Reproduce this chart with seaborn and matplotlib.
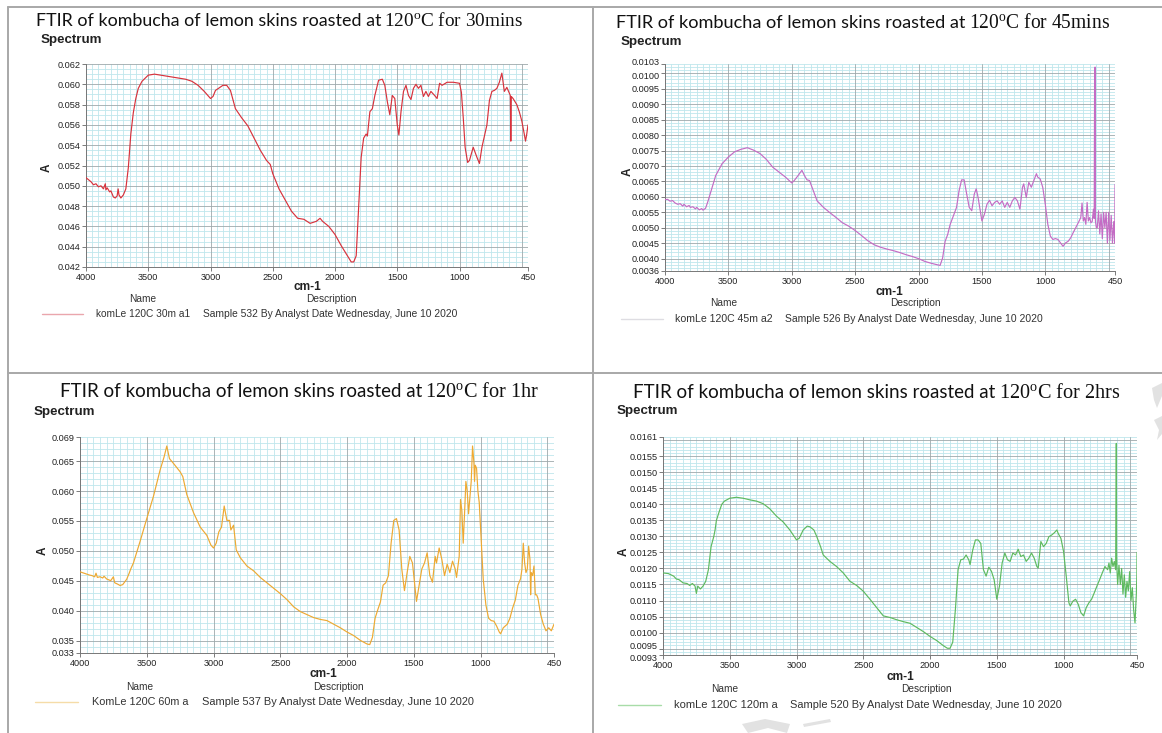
import numpy as np
import pandas as pd
import matplotlib
matplotlib.use("Agg")
import matplotlib.pyplot as plt
from matplotlib.lines import Line2D
from matplotlib.patches import Polygon
from matplotlib.transforms import ScaledTranslation
import seaborn as sns

# ---------------- data ----------------
p1_wn = [4000, 3980, 3960, 3940, 3920, 3900, 3880, 3860, 3845, 3840, 3830, 3810, 3800, 3780, 3765, 3750,
         3742, 3735, 3720, 3700, 3680, 3660, 3640, 3620, 3600, 3580, 3550, 3500, 3450, 3400, 3300, 3200,
         3150, 3100, 3050, 3000, 2980, 2960, 2900, 2870, 2840, 2800, 2750, 2700, 2650, 2600, 2550, 2520,
         2500, 2450, 2400, 2350, 2300, 2250, 2200, 2150, 2120, 2100, 2050, 2000, 1950, 1900, 1870, 1850,
         1830, 1810, 1790, 1770, 1750, 1740, 1720, 1700, 1680, 1650, 1620, 1600, 1580, 1560, 1540, 1520,
         1500, 1487, 1470, 1450, 1430, 1410, 1390, 1370, 1350, 1330, 1310, 1290, 1270, 1250, 1230, 1200,
         1180, 1160, 1140, 1100, 1050, 1000, 985, 970, 955, 935, 920, 890, 860, 840, 820, 800,
         780, 760, 740, 720, 700, 680, 660, 650, 640, 620, 610, 592, 588, 584, 570, 560,
         540, 520, 500, 480, 470, 460, 450]
p1_abs = [0.0508, 0.0506, 0.0504, 0.0501, 0.0502, 0.0499, 0.0500, 0.0497, 0.0502, 0.0496, 0.0498, 0.0494, 0.0495, 0.0489, 0.0488, 0.0490,
          0.0497, 0.0491, 0.0488, 0.0491, 0.0497, 0.0518, 0.0551, 0.0572, 0.0586, 0.0596, 0.0603, 0.0609, 0.0610, 0.0609, 0.0607, 0.0605,
          0.0603, 0.0599, 0.0593, 0.0586, 0.0588, 0.0594, 0.0599, 0.0599, 0.0594, 0.0576, 0.0567, 0.0559, 0.0547, 0.0535, 0.0525, 0.0521,
          0.0512, 0.0497, 0.0486, 0.0475, 0.0468, 0.0467, 0.0463, 0.0465, 0.0468, 0.0465, 0.0460, 0.0452, 0.0441, 0.0431, 0.0425, 0.0425,
          0.0431, 0.0480, 0.0528, 0.0547, 0.0551, 0.0549, 0.0573, 0.0576, 0.0589, 0.0604, 0.0605, 0.0599, 0.0583, 0.0570, 0.0589, 0.0586,
          0.0560, 0.0550, 0.0573, 0.0593, 0.0599, 0.0589, 0.0585, 0.0596, 0.0600, 0.0596, 0.0599, 0.0588, 0.0593, 0.0588, 0.0593, 0.0589,
          0.0586, 0.0601, 0.0599, 0.0602, 0.0602, 0.0601, 0.0592, 0.0567, 0.0538, 0.0523, 0.0525, 0.0538, 0.0528, 0.0522, 0.0538, 0.0549,
          0.0560, 0.0584, 0.0593, 0.0594, 0.0596, 0.0602, 0.0611, 0.0602, 0.0593, 0.0597, 0.0594, 0.0589, 0.0544, 0.0588, 0.0586, 0.0584,
          0.0580, 0.0573, 0.0564, 0.0551, 0.0544, 0.0551, 0.0560]

p2_wn = [4000, 3980, 3960, 3940, 3920, 3900, 3880, 3860, 3850, 3830, 3810, 3800, 3780, 3760, 3750, 3730,
         3710, 3700, 3680, 3660, 3640, 3620, 3600, 3550, 3500, 3450, 3400, 3350, 3300, 3250, 3200, 3150,
         3100, 3050, 3000, 2980, 2950, 2920, 2900, 2880, 2860, 2840, 2800, 2750, 2700, 2650, 2600, 2550,
         2500, 2450, 2400, 2350, 2300, 2250, 2200, 2150, 2100, 2050, 2000, 1950, 1900, 1850, 1830, 1810,
         1790, 1770, 1750, 1720, 1700, 1680, 1660, 1640, 1620, 1600, 1580, 1560, 1545, 1530, 1500, 1480,
         1460, 1440, 1420, 1400, 1380, 1360, 1340, 1320, 1300, 1280, 1260, 1240, 1220, 1200, 1180, 1170,
         1150, 1130, 1110, 1090, 1070, 1060, 1040, 1020, 1000, 980, 960, 940, 920, 900, 880, 860,
         840, 820, 800, 780, 760, 740, 720, 710, 700, 690, 680, 670, 660, 650, 640, 630,
         620, 614, 611, 609, 607, 606, 604, 597, 590, 580, 570, 560, 550, 540, 530, 520,
         510, 500, 490, 480, 470, 460, 452, 450]
p2_abs = [0.00591, 0.00592, 0.00586, 0.00588, 0.00580, 0.00576, 0.00578, 0.00570, 0.00576, 0.00568, 0.00572, 0.00566, 0.00568, 0.00561, 0.00566, 0.00558,
          0.00562, 0.00557, 0.00563, 0.00587, 0.00615, 0.00642, 0.00669, 0.00707, 0.00729, 0.00746, 0.00754, 0.00759, 0.00751, 0.00740, 0.00721, 0.00696,
          0.00680, 0.00664, 0.00645, 0.00653, 0.00669, 0.00686, 0.00669, 0.00655, 0.00653, 0.00631, 0.00587, 0.00566, 0.00549, 0.00533, 0.00516, 0.00505,
          0.00491, 0.00475, 0.00458, 0.00445, 0.00437, 0.00431, 0.00426, 0.00420, 0.00413, 0.00407, 0.00400, 0.00391, 0.00385, 0.00380, 0.00378, 0.00402,
          0.00456, 0.00478, 0.00511, 0.00544, 0.00566, 0.00620, 0.00655, 0.00655, 0.00609, 0.00566, 0.00555, 0.00609, 0.00626, 0.00598, 0.00522, 0.00544,
          0.00576, 0.00589, 0.00571, 0.00582, 0.00587, 0.00576, 0.00587, 0.00566, 0.00582, 0.00566, 0.00587, 0.00598, 0.00587, 0.00560, 0.00631, 0.00642,
          0.00598, 0.00647, 0.00631, 0.00653, 0.00675, 0.00664, 0.00658, 0.00631, 0.00576, 0.00511, 0.00473, 0.00462, 0.00465, 0.00462, 0.00451, 0.00440,
          0.00451, 0.00456, 0.00467, 0.00484, 0.00500, 0.00516, 0.00533, 0.00580, 0.00522, 0.00533, 0.00511, 0.00582, 0.00522, 0.00533, 0.00516, 0.00520,
          0.00560, 0.00530, 0.00970, 0.00540, 0.01020, 0.00560, 0.00520, 0.00500, 0.00500, 0.00555, 0.00480, 0.00545, 0.00465, 0.00550, 0.00500, 0.00550,
          0.00450, 0.00550, 0.00460, 0.00540, 0.00450, 0.00520, 0.00450, 0.00640]

p3_wn = [4000, 3970, 3950, 3930, 3910, 3890, 3880, 3870, 3850, 3830, 3820, 3800, 3770, 3750, 3740, 3720,
         3700, 3680, 3650, 3630, 3620, 3600, 3550, 3500, 3450, 3400, 3370, 3350, 3330, 3300, 3250, 3230,
         3200, 3150, 3100, 3050, 3020, 3000, 2980, 2960, 2940, 2920, 2900, 2880, 2870, 2850, 2830, 2800,
         2750, 2700, 2650, 2600, 2550, 2500, 2450, 2400, 2350, 2300, 2250, 2200, 2150, 2100, 2050, 2000,
         1950, 1900, 1850, 1830, 1810, 1790, 1770, 1750, 1730, 1710, 1690, 1670, 1650, 1630, 1610, 1590,
         1570, 1550, 1530, 1510, 1490, 1480, 1460, 1440, 1420, 1400, 1380, 1360, 1340, 1330, 1310, 1290,
         1270, 1250, 1230, 1210, 1190, 1180, 1160, 1150, 1140, 1130, 1120, 1110, 1100, 1090, 1080, 1070,
         1060, 1050, 1045, 1040, 1030, 1020, 1010, 1000, 980, 960, 940, 920, 900, 880, 860, 850,
         830, 800, 780, 760, 740, 720, 700, 690, 680, 670, 660, 650, 640, 630, 625, 620,
         610, 600, 590, 580, 570, 550, 530, 510, 490, 470, 450]
p3_abs = [0.04653, 0.0463, 0.04615, 0.0460, 0.0459, 0.0457, 0.0463, 0.0456, 0.04571, 0.0455, 0.0458, 0.04533, 0.04506, 0.0457, 0.0447, 0.0445,
          0.04425, 0.0444, 0.0453, 0.0464, 0.0470, 0.0480, 0.0516, 0.0554, 0.0591, 0.0635, 0.0657, 0.0675, 0.0654, 0.0646, 0.0632, 0.0624,
          0.0594, 0.0564, 0.0540, 0.0526, 0.0510, 0.0505, 0.0513, 0.0532, 0.0540, 0.0575, 0.0551, 0.0551, 0.0535, 0.0543, 0.0502, 0.0489,
          0.0475, 0.0467, 0.0456, 0.0447, 0.0438, 0.0429, 0.0419, 0.0407, 0.0399, 0.0394, 0.0389, 0.0386, 0.0384, 0.0378, 0.0372, 0.0365,
          0.0359, 0.0351, 0.0345, 0.0344, 0.0356, 0.0388, 0.0402, 0.0415, 0.0443, 0.0447, 0.0459, 0.0513, 0.0551, 0.0554, 0.0535, 0.0470,
          0.0434, 0.0464, 0.0491, 0.0480, 0.0437, 0.0416, 0.0443, 0.0470, 0.0480, 0.0497, 0.0459, 0.0448, 0.0491, 0.0480, 0.0505, 0.0486,
          0.0459, 0.0478, 0.0464, 0.0483, 0.0470, 0.0456, 0.0491, 0.0586, 0.0567, 0.0513, 0.0562, 0.0616, 0.0600, 0.0562, 0.0589, 0.0616,
          0.0675, 0.0648, 0.0616, 0.0643, 0.0638, 0.0600, 0.0581, 0.0540, 0.0453, 0.0410, 0.0388, 0.0384, 0.0383, 0.0375, 0.0365, 0.0362,
          0.0372, 0.0378, 0.0388, 0.0405, 0.0418, 0.0443, 0.0454, 0.0470, 0.0513, 0.0480, 0.0464, 0.0470, 0.0508, 0.0486, 0.0427, 0.0464,
          0.0459, 0.0475, 0.0427, 0.0427, 0.0421, 0.0394, 0.0378, 0.0367, 0.0372, 0.0367, 0.0378]

p4_wn = [4000, 3960, 3920, 3900, 3880, 3850, 3820, 3800, 3780, 3760, 3750, 3740, 3720, 3700, 3680, 3660,
         3640, 3620, 3610, 3600, 3580, 3560, 3540, 3500, 3450, 3400, 3350, 3300, 3250, 3200, 3150, 3100,
         3050, 3000, 2980, 2950, 2920, 2900, 2870, 2850, 2820, 2800, 2750, 2700, 2650, 2600, 2550, 2500,
         2450, 2400, 2350, 2300, 2250, 2200, 2150, 2100, 2050, 2000, 1950, 1900, 1870, 1850, 1830, 1810,
         1790, 1770, 1750, 1730, 1710, 1700, 1680, 1660, 1640, 1620, 1600, 1580, 1560, 1540, 1520, 1500,
         1480, 1460, 1440, 1420, 1400, 1380, 1360, 1340, 1320, 1300, 1280, 1260, 1240, 1220, 1200, 1190,
         1170, 1150, 1130, 1110, 1090, 1070, 1050, 1040, 1020, 1000, 980, 960, 950, 930, 910, 890,
         870, 850, 830, 810, 790, 770, 750, 730, 710, 690, 670, 660, 650, 640, 630, 620,
         610, 606, 605, 603, 600, 595, 585, 575, 565, 555, 545, 535, 525, 515, 505, 495,
         485, 475, 465, 455, 451, 450]
p4_abs = [0.01186, 0.01184, 0.01176, 0.01167, 0.01165, 0.01155, 0.01153, 0.01147, 0.01153, 0.01145, 0.01122, 0.01145, 0.01136, 0.01145, 0.01160, 0.01196,
          0.01268, 0.01299, 0.01320, 0.01350, 0.01376, 0.01400, 0.01410, 0.01419, 0.01422, 0.01419, 0.01414, 0.01410, 0.01402, 0.01386, 0.01363, 0.01345,
          0.01320, 0.01289, 0.01294, 0.01320, 0.01332, 0.01330, 0.01320, 0.01301, 0.01268, 0.01242, 0.01222, 0.01206, 0.01186, 0.01160, 0.01147, 0.01129,
          0.01104, 0.01078, 0.01052, 0.01047, 0.01040, 0.01034, 0.01029, 0.01016, 0.01003, 0.00988, 0.00975, 0.00959, 0.00951, 0.00951, 0.00970, 0.01073,
          0.01196, 0.01227, 0.01229, 0.01242, 0.01227, 0.01212, 0.01258, 0.01289, 0.01289, 0.01278, 0.01196, 0.01176, 0.01204, 0.01191, 0.01165, 0.01104,
          0.01145, 0.01217, 0.01248, 0.01227, 0.01222, 0.01248, 0.01242, 0.01260, 0.01237, 0.01242, 0.01222, 0.01232, 0.01248, 0.01232, 0.01206, 0.01201,
          0.01284, 0.01268, 0.01278, 0.01299, 0.01304, 0.01311, 0.01320, 0.01309, 0.01294, 0.01253, 0.01176, 0.01093, 0.01083, 0.01098, 0.01104, 0.01088,
          0.01062, 0.01052, 0.01078, 0.01093, 0.01104, 0.01124, 0.01145, 0.01165, 0.01186, 0.01206, 0.01196, 0.01217, 0.01186, 0.01232, 0.01206, 0.01222,
          0.01196, 0.01450, 0.01590, 0.01250, 0.01196, 0.01150, 0.01210, 0.01150, 0.01200, 0.01120, 0.01180, 0.01110, 0.01160, 0.01130, 0.01190, 0.01100,
          0.01140, 0.01070, 0.01030, 0.01120, 0.01180, 0.01250]

titles_sans = ["FTIR of kombucha of lemon skins roasted at"] * 4
titles_serif = [r"120$^{\mathrm{o}}$C for 30mins", r"120$^{\mathrm{o}}$C for 45mins",
                r"120$^{\mathrm{o}}$C for 1hr", r"120$^{\mathrm{o}}$C for 2hrs"]
sample_names = ["komLe 120C 30m a1", "komLe 120C 45m a2", "KomLe 120C 60m a", "komLe 120C 120m a"]
descriptions = ["Sample 532 By Analyst Date Wednesday, June 10 2020",
                "Sample 526 By Analyst Date Wednesday, June 10 2020",
                "Sample 537 By Analyst Date Wednesday, June 10 2020",
                "Sample 520 By Analyst Date Wednesday, June 10 2020"]
x_tick_vals = [4000, 3500, 3000, 2500, 2000, 1500, 1000, 450]
y_ticks = [
    [0.042, 0.044, 0.046, 0.048, 0.050, 0.052, 0.054, 0.056, 0.058, 0.060, 0.062],
    [0.0036, 0.0040, 0.0045, 0.0050, 0.0055, 0.0060, 0.0065, 0.0070, 0.0075, 0.0080, 0.0085, 0.0090, 0.0095, 0.0100, 0.0103],
    [0.033, 0.035, 0.040, 0.045, 0.050, 0.055, 0.060, 0.065, 0.069],
    [0.0093, 0.0095, 0.0100, 0.0105, 0.0110, 0.0115, 0.0120, 0.0125, 0.0130, 0.0135, 0.0140, 0.0145, 0.0150, 0.0155, 0.0161],
]

# ---------------- style ----------------
sns.set_theme(style="white")
plt.rcParams["font.family"] = ["Liberation Sans", "DejaVu Sans"]
plt.rcParams["mathtext.fontset"] = "custom"
plt.rcParams["mathtext.rm"] = "Liberation Serif"
plt.rcParams["mathtext.it"] = "Liberation Serif:italic"
plt.rcParams["mathtext.bf"] = "Liberation Serif:bold"

W, H = 1162, 733
fig = plt.figure(figsize=(W / 100, H / 100), dpi=100)
fig.patch.set_facecolor("white")
renderer = fig.canvas.get_renderer()


def fx(x):
    return x / W


def fy(y):
    return 1 - y / H


def put(x, y, s, size, target_w=None, **kw):
    t = fig.text(fx(x), fy(y), s, fontsize=size, **kw)
    if target_w:
        w = t.get_window_extent(renderer).width
        t.set_fontsize(size * target_w / w)
    return t


def hline(x0, x1, y, color, lw):
    fig.add_artist(Line2D([fx(x0), fx(x1)], [fy(y), fy(y)], transform=fig.transFigure, color=color, lw=lw))


def vline(x, y0, y1, color, lw):
    fig.add_artist(Line2D([fx(x), fx(x)], [fy(y0), fy(y1)], transform=fig.transFigure, color=color, lw=lw))


panels = [
    dict(wn=p1_wn, ab=p1_abs, rect=(86, 528, 64, 267), color="#d8323c", leg="#eaa6ad",
         fmt="{:.3f}", major=0.002, minor=0.0005, nudge=None,
         title=(36, 523, 26), spec=(41, 40), A=(47, 168), cm=(307, 287),
         name=(143, 299), desc=(331, 299), legline=(42, 83, 314), nm=(96, 190), ds=(203, 458)),
    dict(wn=p2_wn, ab=p2_abs, rect=(665, 1115, 64, 271), color="#c46cc4", leg="#dedde2",
         fmt="{:.4f}", major=0.0005, minor=0.0001, nudge="top",
         title=(616, 1110, 28), spec=(621, 42), A=(628, 172), cm=(889, 292),
         name=(724, 303), desc=(915, 303), legline=(621, 663, 319), nm=(675, 772), ds=(785, 1044)),
    dict(wn=p3_wn, ab=p3_abs, rect=(80, 554, 437, 653), color="#eea932", leg="#f5dca8",
         fmt="{:.3f}", major=0.005, minor=0.001, nudge=None,
         title=(60, 539, 397), spec=(34, 412), A=(43, 551), cm=(323, 674),
         name=(140, 687), desc=(338, 687), legline=(35, 78, 702), nm=(92, 189), ds=(202, 474)),
    dict(wn=p4_wn, ab=p4_abs, rect=(663, 1137, 437, 655), color="#5fba5f", leg="#a8dca8",
         fmt="{:.4f}", major=0.0005, minor=0.0001, nudge="bottom",
         title=(633, 1121, 398), spec=(617, 411), A=(624, 552), cm=(900, 677),
         name=(725, 689), desc=(926, 689), legline=(618, 661, 705), nm=(674, 777), ds=(790, 1063)),
]

minor_c = "#bfe7ec"
major_c = "#9ea8ab"
GAP = 5

for i, p in enumerate(panels):
    l, r, t, b = p["rect"]
    ax = fig.add_axes([fx(l), fy(b), (r - l) / W, (b - t) / H])
    ax.set_facecolor("white")
    df = pd.DataFrame({"wavenumber": p["wn"], "A": p["ab"]})
    sns.lineplot(data=df, x="wavenumber", y="A", ax=ax, color=p["color"], linewidth=0.85,
                 estimator=None, sort=True, zorder=3)
    ymin, ymax = y_ticks[i][0], y_ticks[i][-1]
    ax.set_xlim(4000, 450)
    ax.set_ylim(ymin, ymax)
    # grid
    for xv in range(450, 4001, 50):
        ax.axvline(xv, color=major_c if xv % 500 == 0 else minor_c, lw=0.6, zorder=1 if xv % 500 == 0 else 0)
    step = p["minor"]
    k0 = int(np.ceil(ymin / step - 1e-6))
    k1 = int(np.floor(ymax / step + 1e-6))
    ratio = int(round(p["major"] / step))
    for k in range(k0, k1 + 1):
        ax.axhline(k * step, color=major_c if k % ratio == 0 else minor_c, lw=0.6,
                   zorder=1 if k % ratio == 0 else 0)
    ax.set_xticks(x_tick_vals)
    ax.set_xticklabels([str(v) for v in x_tick_vals])
    ax.set_yticks(y_ticks[i])
    ax.set_yticklabels([p["fmt"].format(v) for v in y_ticks[i]])
    ax.tick_params(axis="both", labelsize=6.6, length=3, width=0.6, color="#666666", pad=1,
                   labelcolor="#222222", left=True, bottom=True)
    ylabels = ax.get_yticklabels()
    if p["nudge"] == "top":
        ylabels[-1].set_transform(ylabels[-1].get_transform() + ScaledTranslation(0, 1.5 / 72, fig.dpi_scale_trans))
        ylabels[-2].set_transform(ylabels[-2].get_transform() + ScaledTranslation(0, -1.5 / 72, fig.dpi_scale_trans))
    elif p["nudge"] == "bottom":
        ylabels[0].set_transform(ylabels[0].get_transform() + ScaledTranslation(0, -1.5 / 72, fig.dpi_scale_trans))
        ylabels[1].set_transform(ylabels[1].get_transform() + ScaledTranslation(0, 2.5 / 72, fig.dpi_scale_trans))
    for s in ["top", "right"]:
        ax.spines[s].set_visible(False)
    for s in ["left", "bottom"]:
        ax.spines[s].set_color("#777777")
        ax.spines[s].set_linewidth(0.7)
    ax.set_xlabel("")
    ax.set_ylabel("")

    # title: sans part + serif part, scaled together to the reference width
    x0, x1, yb = p["title"]
    base = 12.0
    ts = put(x0, yb, titles_sans[i], base, family=["Lato", "DejaVu Sans"],
             ha="left", va="baseline", color="#111111")
    tr = put(x0, yb, titles_serif[i], base * 1.08, family=["Liberation Serif", "DejaVu Serif"],
             ha="left", va="baseline", color="#111111")
    ws = ts.get_window_extent(renderer).width
    wr = tr.get_window_extent(renderer).width
    k = (x1 - x0 - GAP) / (ws + wr)
    ts.set_fontsize(base * k)
    tr.set_fontsize(base * 1.08 * k)
    tr.set_position((fx(x0 + ws * k + GAP), fy(yb)))

    put(p["spec"][0], p["spec"][1], "Spectrum", 9.6, ha="left", va="center", weight="bold", color="#222222")
    put(p["A"][0], p["A"][1], "A", 8.5, ha="center", va="center", weight="bold", rotation=90, color="#222222")
    put(p["cm"][0], p["cm"][1], "cm-1", 8.6, ha="center", va="center", weight="bold", color="#222222")
    put(p["name"][0], p["name"][1], "Name", 7.3, ha="center", va="center", color="#333333")
    put(p["desc"][0], p["desc"][1], "Description", 7.3, ha="center", va="center", color="#333333")
    lx0, lx1, ly = p["legline"]
    hline(lx0, lx1, ly, p["leg"], 1.0)
    put(p["nm"][0], ly, sample_names[i], 7.3, target_w=p["nm"][1] - p["nm"][0], ha="left", va="center",
        color="#333333")
    put(p["ds"][0], ly, descriptions[i], 7.3, target_w=p["ds"][1] - p["ds"][0], ha="left", va="center",
        color="#333333")

# table borders
tc = "#a8a8a8"
hline(8, W, 7, tc, 1.4)
hline(8, W, 373, tc, 1.4)
vline(8, 7, H, tc, 1.4)
vline(593, 7, H, tc, 1.4)

# faint watermark fragments at the page edges
wm = "#e2e2e2"
shapes = [
    [(1152, 388), (1162, 383), (1162, 396), (1157, 408), (1154, 400)],
    [(1154, 420), (1162, 416), (1162, 434), (1157, 440), (1159, 430)],
    [(742, 724), (765, 719), (790, 724), (787, 733), (768, 728), (748, 733)],
    [(803, 724), (830, 719), (831, 722), (804, 727)],
]
for pts in shapes:
    fig.add_artist(Polygon([(fx(a), fy(b)) for a, b in pts], closed=True, transform=fig.transFigure,
                           facecolor=wm, edgecolor="none"))

fig.savefig("out.png", dpi=100, facecolor="white")
